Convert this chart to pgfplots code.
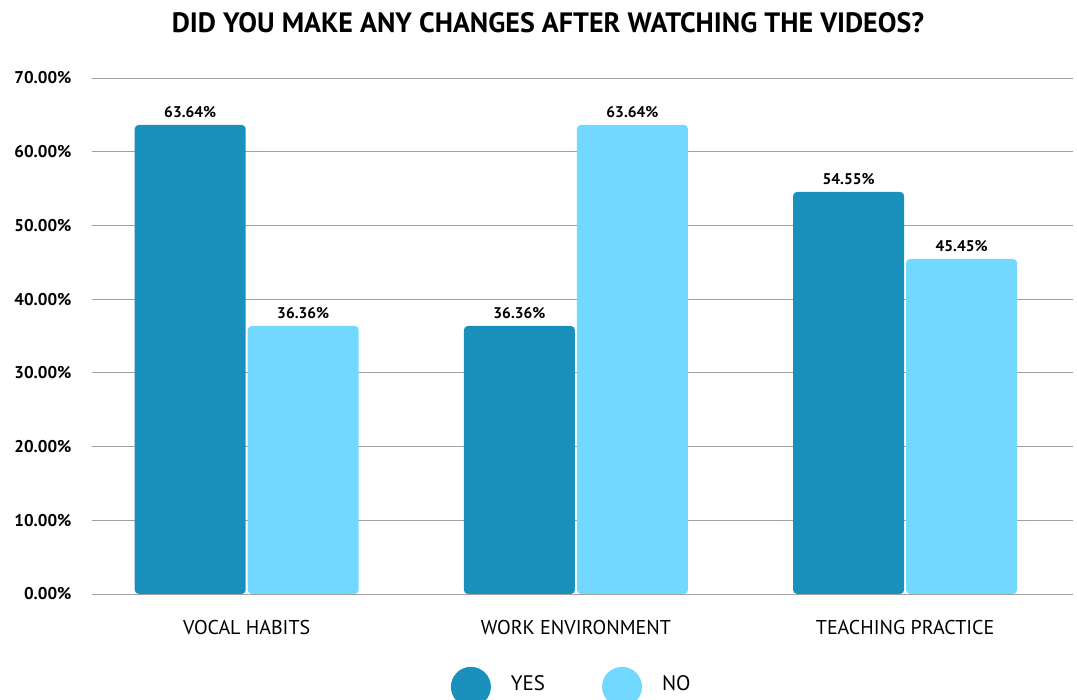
\documentclass[border=0pt]{standalone}
\usepackage{pgfplots}
\pgfplotsset{compat=1.18}
\usepackage{fontspec}
\setmainfont{PT Sans}
\definecolor{yescol}{RGB}{26,145,188}
\definecolor{nocol}{RGB}{114,216,255}
\definecolor{gridcol}{RGB}{160,160,160}
\begin{document}
\begin{tikzpicture}[x=1pt,y=1pt]
\path[use as bounding box] (0,0) rectangle (1077,700);
\node[font=\fontsize{28}{30}\selectfont\bfseries, anchor=base] at (548,667) {DID YOU MAKE ANY CHANGES AFTER WATCHING THE VIDEOS?};
\begin{axis}[
  at={(92pt,106pt)}, anchor=south west,
  scale only axis, width=981pt, height=516pt,
  ybar=2pt, bar width=111pt,
  xmin=-0.47, xmax=2.51, ymin=0, ymax=70,
  xtick={0,1,2},
  xticklabels={VOCAL HABITS, WORK ENVIRONMENT, TEACHING PRACTICE},
  ytick={0,10,...,70},
  yticklabel={\pgfmathprintnumber[fixed,fixed zerofill,precision=2]{\tick}\%},
  /pgf/number format/assume math mode=true,
  axis line style={draw=none},
  tick style={draw=none},
  ymajorgrids, grid style={gridcol, line width=0.8pt},
  yticklabel style={font=\fontsize{17}{19}\selectfont\bfseries, anchor=east, xshift=-17pt},
  xticklabel style={font=\fontsize{20}{22}\selectfont, yshift=-18pt},
  nodes near coords={\pgfmathprintnumber[fixed,fixed zerofill,precision=2]{\pgfplotspointmeta}\%},
  nodes near coords style={font=\fontsize{15.5}{18}\selectfont\bfseries, anchor=south, yshift=4pt},
  every axis plot/.append style={draw=none, rounded corners=4pt},
  legend image code/.code={\fill[#1, draw=none] (0pt,-3pt) circle (20pt);},
  legend style={draw=none, fill=none, at={(0.489,-0.18)}, anchor=center,
    legend columns=2, font=\fontsize{21}{23}\selectfont,
    /tikz/every even column/.append style={column sep=55pt},
    legend cell align=left},
]
\addplot[fill=yescol] coordinates {(0,63.64) (1,36.36) (2,54.55)};
\addplot[fill=nocol] coordinates {(0,36.36) (1,63.64) (2,45.45)};
\legend{\hspace{18pt}YES,\hspace{18pt}NO}
\end{axis}
\end{tikzpicture}
\end{document}
